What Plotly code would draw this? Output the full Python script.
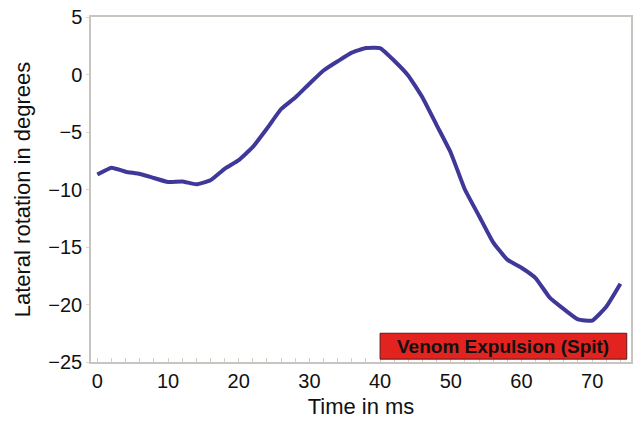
import plotly.graph_objects as go

time_ms = [0, 2, 4, 6, 8, 10, 12, 14, 16, 18, 20, 22, 24, 26, 28, 30, 32, 34, 36, 38,
           40, 42, 44, 46, 48, 50, 52, 54, 56, 58, 60, 62, 64, 66, 68, 70, 72, 74]
rotation_deg = [-8.7, -8.1, -8.45, -8.65, -9.0, -9.35, -9.3, -9.55, -9.2, -8.2,
                -7.45, -6.3, -4.7, -3.0, -2.0, -0.8, 0.35, 1.15, 1.9, 2.3,
                2.3, 1.2, -0.1, -2.0, -4.4, -6.8, -10.0, -12.3, -14.6, -16.1,
                -16.8, -17.7, -19.4, -20.4, -21.3, -21.4, -20.2, -18.2]
x_ticks = [0, 10, 20, 30, 40, 50, 60, 70]
y_ticks = [-25, -20, -15, -10, -5, 0, 5]
spit_label = "Venom Expulsion (Spit)"
spit_start, spit_end = 40, 74.9
spit_low, spit_high = -24.75, -22.5

font_family = "Liberation Sans, Arial, sans-serif"

fig = go.Figure()
fig.add_trace(go.Scatter(x=time_ms, y=rotation_deg, mode="lines",
                         line=dict(color="#3f3899", width=4, shape="spline", smoothing=0.4),
                         showlegend=False))

fig.add_shape(type="rect", xref="x", yref="y", x0=spit_start, x1=spit_end,
              y0=spit_low, y1=spit_high, fillcolor="#e3231f",
              line=dict(color="#5a1a18", width=1))
fig.add_annotation(x=(spit_start + spit_end) / 2, y=(spit_low + spit_high) / 2,
                   xref="x", yref="y", text="<b>" + spit_label + "</b>",
                   showarrow=False, font=dict(family=font_family, size=19, color="#111111"))

fig.update_layout(
    width=639, height=421,
    margin=dict(l=91, r=6, t=14, b=59),
    plot_bgcolor="white", paper_bgcolor="white",
    font=dict(family=font_family, size=20, color="#111111"),
)
fig.update_xaxes(range=[-0.9, 75.5], tickvals=x_ticks, ticks="", showgrid=False,
                 zeroline=False, showline=True, linecolor="#c8c4c0", linewidth=1.5, mirror=True,
                 minor=dict(dtick=2, ticks="inside", ticklen=4, tickcolor="#d0ccc8", showgrid=False),
                 title=dict(text="Time in ms", font=dict(size=22), standoff=8),
                 tickfont=dict(size=20))
fig.update_yaxes(range=[-25, 5], tickvals=y_ticks, ticks="outside", ticklen=3,
                 tickcolor="#d8d4d0", showgrid=False, zeroline=False, showline=True,
                 linecolor="#c8c4c0", linewidth=1.5, mirror=True,
                 title=dict(text="Lateral rotation in degrees", font=dict(size=22), standoff=12),
                 tickfont=dict(size=20))

fig.write_html("out.html")
